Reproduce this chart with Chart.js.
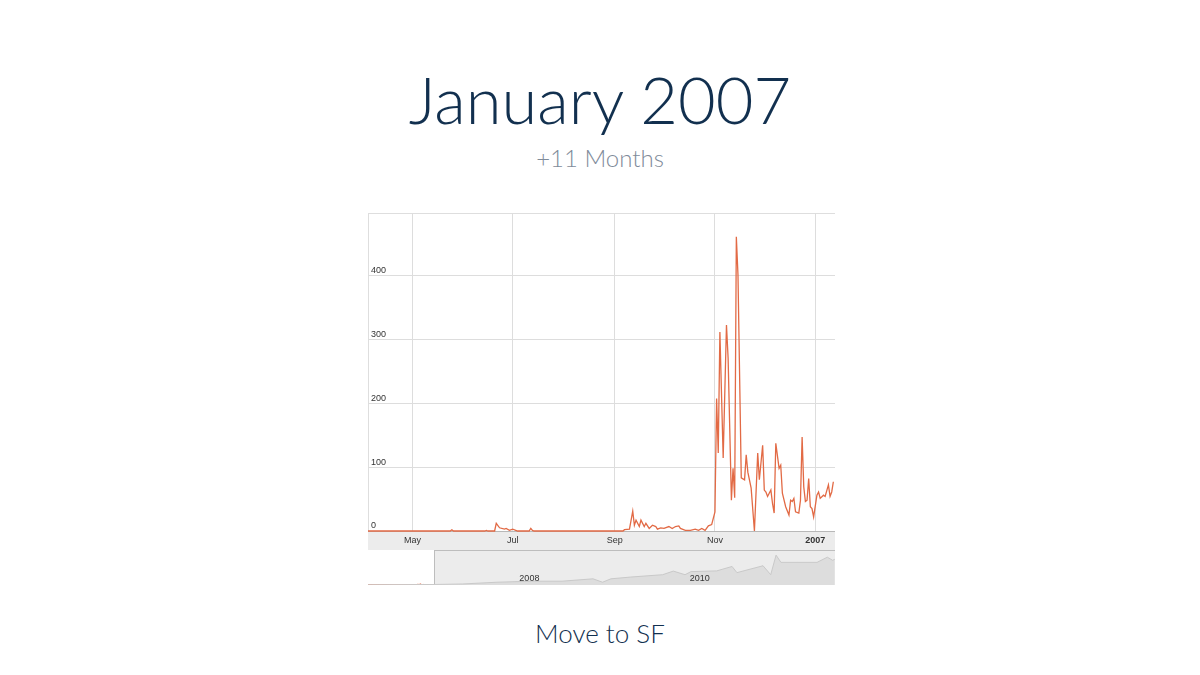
<!DOCTYPE html>
<html>
<head>
<meta charset="utf-8">
<script src="https://cdn.jsdelivr.net/npm/chart.js@4.4.0/dist/chart.umd.min.js"></script>
<style>
    body { margin: 0; width: 1200px; height: 675px; background: #fff; position: relative; overflow: hidden; font-family: Lato, "Open Sans", sans-serif; }
    .t { position: absolute; left: 0; width: 1200px; text-align: center; line-height: 1; white-space: nowrap; }
    #title { top: 67px; font-size: 65px; font-weight: 300; color: #12304f; }
    #sub { top: 146px; font-size: 24px; font-weight: 300; color: #7f8b9a; }
    #cap { top: 620px; font-size: 26px; font-weight: 300; color: #12304f; }
    #main { position: absolute; left: 368px; top: 213px; width: 467px; height: 337px; }
    #nav { position: absolute; left: 368px; top: 550px; width: 467px; height: 35px; }
</style>
</head>
<body>
<div class="t" id="title">January 2007</div>
<div class="t" id="sub">+11 Months</div>
<div id="main"><canvas id="mainChart"></canvas></div>
<div id="nav"><canvas id="navChart"></canvas></div>
<div class="t" id="cap">Move to SF</div>

<script>
// daily visits, Apr 2006 - Jan 2007
const dates = [
    '2006-04-04', '2006-05-24', '2006-05-25', '2006-05-26', '2006-06-14', '2006-06-15', '2006-06-16',
    '2006-06-20', '2006-06-21', '2006-06-23', '2006-06-26', '2006-06-27', '2006-06-29', '2006-07-01',
    '2006-07-04', '2006-07-11', '2006-07-12', '2006-07-13', '2006-07-14', '2006-09-06', '2006-09-07',
    '2006-09-10', '2006-09-12', '2006-09-13', '2006-09-14', '2006-09-16', '2006-09-17', '2006-09-19',
    '2006-09-20', '2006-09-22', '2006-09-24', '2006-09-26', '2006-09-27', '2006-09-29', '2006-10-01',
    '2006-10-04', '2006-10-06', '2006-10-08', '2006-10-10', '2006-10-11', '2006-10-14', '2006-10-17',
    '2006-10-20', '2006-10-22', '2006-10-24', '2006-10-26', '2006-10-28', '2006-10-30', '2006-11-01',
    '2006-11-02', '2006-11-03', '2006-11-04', '2006-11-06', '2006-11-08', '2006-11-09', '2006-11-11',
    '2006-11-12', '2006-11-13', '2006-11-14', '2006-11-15', '2006-11-17', '2006-11-19', '2006-11-20',
    '2006-11-21', '2006-11-23', '2006-11-25', '2006-11-27', '2006-11-28', '2006-11-30', '2006-12-01',
    '2006-12-02', '2006-12-03', '2006-12-05', '2006-12-06', '2006-12-07', '2006-12-08', '2006-12-10',
    '2006-12-11', '2006-12-12', '2006-12-14', '2006-12-16', '2006-12-17', '2006-12-18', '2006-12-19',
    '2006-12-20', '2006-12-22', '2006-12-23', '2006-12-24', '2006-12-25', '2006-12-26', '2006-12-27',
    '2006-12-28', '2006-12-29', '2006-12-30', '2006-12-31', '2007-01-02', '2007-01-03', '2007-01-04',
    '2007-01-06', '2007-01-07', '2007-01-09', '2007-01-10', '2007-01-11', '2007-01-12'
];
const visits = [
    0, 0, 2, 0, 0, 1, 0,
    0, 12, 5, 3, 4, 1, 3,
    0, 0, 4, 1, 0, 0, 2,
    3, 31, 9, 17, 7, 17, 7,
    12, 4, 9, 7, 3, 5, 4,
    7, 4, 7, 8, 4, 1, 1,
    3, 1, 4, 1, 8, 10, 30,
    207, 122, 311, 114, 322, 270, 48,
    98, 52, 460, 400, 83, 80, 119,
    92, 67, 0, 122, 80, 134, 64,
    61, 54, 64, 43, 28, 137, 98,
    103, 59, 38, 25, 48, 46, 51,
    30, 28, 48, 147, 69, 46, 48,
    82, 38, 35, 22, 56, 61, 51,
    56, 54, 72, 54, 61, 77
];

const monthTicks = ['2006-05-01', '2006-07-01', '2006-09-01', '2006-11-01', '2007-01-01'];
const monthLabels = ['May', 'Jul', 'Sep', 'Nov', '2007'];
const yTicks = [0, 100, 200, 300, 400];

// overview strip, 2006 - 2011
const navDates = [
    '2006-04-04', '2007-01-12', '2007-05-15', '2007-10-10', '2008-03-05', '2008-07-15', '2008-11-25',
    '2009-01-05', '2009-02-10', '2009-05-05', '2009-09-20', '2009-11-05', '2009-12-25', '2010-01-20',
    '2010-05-10', '2010-07-15', '2010-08-05', '2010-11-25', '2010-12-28', '2011-01-20', '2011-02-10',
    '2011-04-20', '2011-07-15', '2011-08-28', '2011-09-20', '2011-09-29'
];
const navValues = [
    0, 50, 100, 270, 370, 370, 600,
    270, 600, 770, 1000, 1350, 1000, 1300,
    1370, 1800, 1200, 1870, 1000, 2900, 2200,
    2200, 2200, 2700, 2400, 2500
];
const navTickDates = ['2008-01-01', '2010-01-01'];
const navTickLabels = ['2008', '2010'];

const startDay = Date.UTC(2006, 3, 4);
function dayOf(s) {
    const p = s.split('-');
    return (Date.UTC(+p[0], +p[1] - 1, +p[2]) - startDay) / 86400000;
}

const mainPoints = dates.map((d, i) => ({ x: dayOf(d), y: visits[i] }));
const lineColor = '#e26a45';
const tickFont = '"Liberation Sans", Arial, sans-serif';

const bandPlugin = {
    id: 'band',
    beforeDraw(chart) {
        const { ctx, chartArea, width, height } = chart;
        ctx.save();
        ctx.fillStyle = '#ececec';
        ctx.fillRect(0, chartArea.bottom, width, height - chartArea.bottom);
        ctx.strokeStyle = '#dedede';
        ctx.lineWidth = 1;
        ctx.beginPath();
        ctx.moveTo(0, 0.5);
        ctx.lineTo(width, 0.5);
        ctx.moveTo(0.5, 0);
        ctx.lineTo(0.5, chartArea.bottom);
        ctx.stroke();
        ctx.restore();
    }
};

new Chart(document.getElementById('mainChart'), {
    type: 'line',
    data: {
        datasets: [{
            data: mainPoints,
            borderColor: lineColor,
            borderWidth: 1.3,
            pointRadius: 0,
            tension: 0,
            fill: false,
            clip: false
        }]
    },
    options: {
        responsive: true,
        maintainAspectRatio: false,
        animation: false,
        layout: { padding: 0 },
        plugins: { legend: { display: false }, tooltip: { enabled: false } },
        scales: {
            x: {
                type: 'linear',
                min: 0,
                max: 284,
                afterBuildTicks: scale => { scale.ticks = monthTicks.map(d => ({ value: dayOf(d) })); },
                afterFit: scale => { scale.height = 19; scale.paddingLeft = 0; scale.paddingRight = 0; },
                grid: { color: '#dddddd', drawTicks: false },
                border: { color: '#b8b8b8' },
                ticks: {
                    padding: 4,
                    color: '#333',
                    maxRotation: 0,
                    autoSkip: false,
                    font: c => ({ family: tickFont, size: 9, weight: c.index === monthLabels.length - 1 ? 'bold' : 'normal' }),
                    callback: (v, i) => monthLabels[i]
                }
            },
            y: {
                min: 0,
                max: 497,
                afterBuildTicks: scale => { scale.ticks = yTicks.map(v => ({ value: v })); },
                afterFit: scale => { scale.width = 0; scale.paddingTop = 0; scale.paddingBottom = 0; },
                grid: { color: '#dddddd', drawTicks: false },
                border: { display: false },
                ticks: {
                    mirror: true,
                    padding: 3,
                    labelOffset: -5,
                    color: '#333',
                    font: { family: tickFont, size: 9 }
                }
            }
        }
    },
    plugins: [bandPlugin]
});

const navPlugin = {
    id: 'navBack',
    beforeDraw(chart) {
        const { ctx, width, height } = chart;
        const xs = chart.scales.x;
        const selEnd = Math.round(xs.getPixelForValue(dayOf(dates[dates.length - 1]))) + 0.5;
        ctx.save();
        ctx.fillStyle = '#ececec';
        ctx.fillRect(0, 0, width, height);
        ctx.fillStyle = '#ffffff';
        ctx.fillRect(0, 0, selEnd, height - 1);
        ctx.strokeStyle = '#bdbdbd';
        ctx.lineWidth = 1;
        ctx.beginPath();
        ctx.moveTo(selEnd, 0.5);
        ctx.lineTo(width, 0.5);
        ctx.moveTo(selEnd, 0);
        ctx.lineTo(selEnd, height - 1);
        ctx.moveTo(0, height - 0.5);
        ctx.lineTo(selEnd, height - 0.5);
        ctx.stroke();
        ctx.restore();
    },
    afterDraw(chart) {
        const { ctx, height } = chart;
        const xs = chart.scales.x;
        ctx.save();
        ctx.fillStyle = '#333';
        ctx.font = '9px ' + tickFont;
        ctx.textBaseline = 'alphabetic';
        ctx.textAlign = 'left';
        navTickDates.forEach((d, i) => {
            ctx.fillText(navTickLabels[i], xs.getPixelForValue(dayOf(d)) + 3, height - 4);
        });
        ctx.restore();
    }
};

new Chart(document.getElementById('navChart'), {
    type: 'line',
    data: {
        datasets: [{
            data: navDates.map((d, i) => ({ x: dayOf(d), y: navValues[i] })),
            borderColor: '#c9c9c9',
            backgroundColor: '#dddddd',
            borderWidth: 1,
            pointRadius: 0,
            tension: 0,
            fill: 'origin'
        }, {
            data: mainPoints,
            yAxisID: 'ySel',
            borderColor: '#f0a58f',
            borderWidth: 1,
            pointRadius: 0,
            tension: 0,
            fill: false
        }]
    },
    options: {
        responsive: true,
        maintainAspectRatio: false,
        animation: false,
        layout: { padding: 0 },
        plugins: { legend: { display: false }, tooltip: { enabled: false } },
        scales: {
            x: { type: 'linear', min: 0, max: 2005, display: false },
            y: { min: 0, max: 3400, display: false },
            ySel: { min: -40, max: 12000, display: false }
        }
    },
    plugins: [navPlugin]
});
</script>
</body>
</html>
